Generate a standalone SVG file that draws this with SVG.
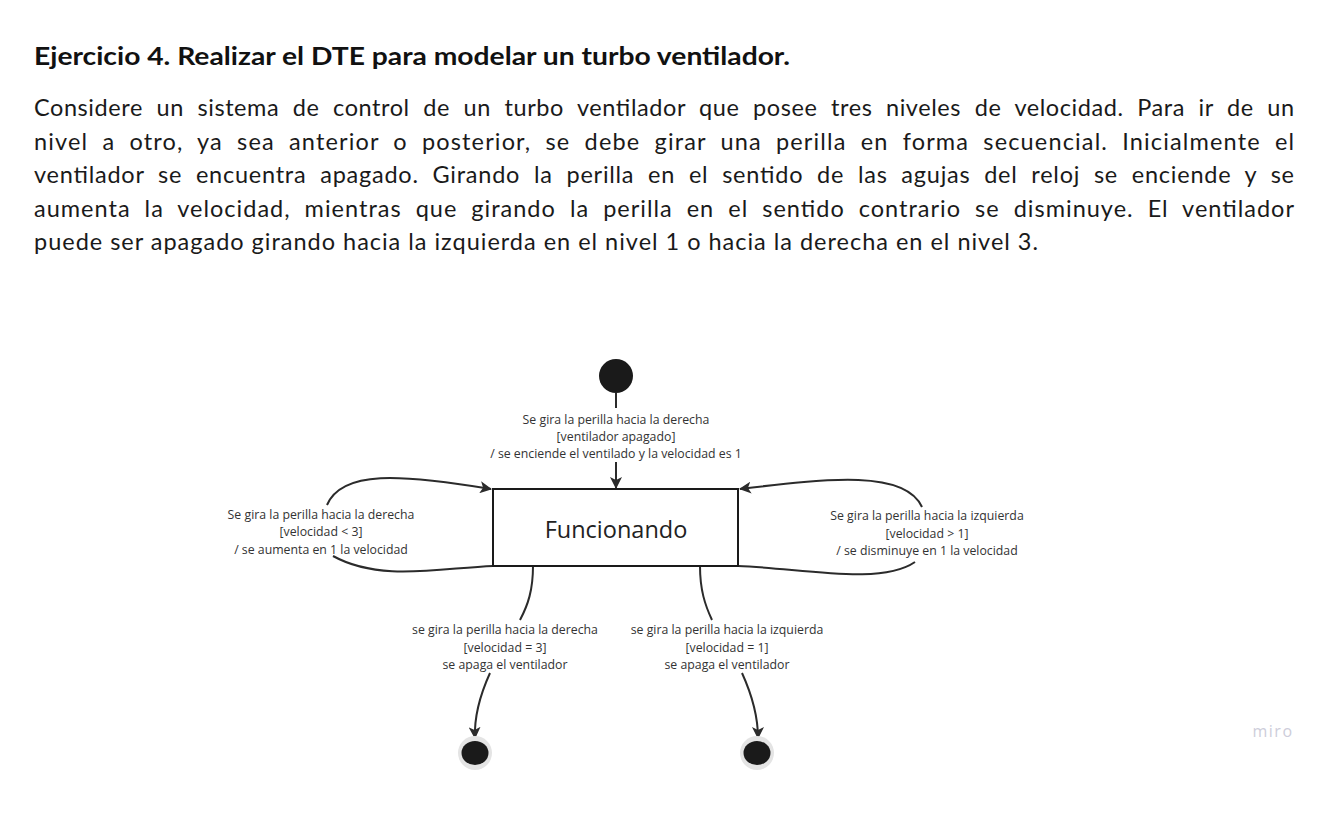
<svg xmlns="http://www.w3.org/2000/svg" width="1326" height="829" viewBox="0 0 1326 829">
<defs>
<style>
.title{font-family:Lato,"Liberation Sans",sans-serif;font-weight:bold;font-size:24.5px;fill:#111}
.para{font-family:Lato,"Liberation Sans",sans-serif;font-size:23.5px;fill:#1a1a1a;word-spacing:7px}
.lbl{font-family:"Open Sans","Liberation Sans",sans-serif;font-size:12.3px;fill:#333;text-anchor:middle}
.state{font-family:"Open Sans","Liberation Sans",sans-serif;font-size:23.5px;fill:#222;text-anchor:middle}
.edge{fill:none;stroke:#2b2b2b;stroke-width:2}
</style>
<marker id="arr" viewBox="0 0 12 12" refX="11" refY="6" markerWidth="12" markerHeight="12" markerUnits="userSpaceOnUse" orient="auto">
<path d="M0,0 L12,6 L0,12 L3,6 z" fill="#2b2b2b"/>
</marker>
</defs>
<rect width="1326" height="829" fill="#fff"/>
<g id="texto">
<text class="title" x="34" y="65" textLength="756" lengthAdjust="spacingAndGlyphs">Ejercicio 4. Realizar el DTE para modelar un turbo ventilador.</text>
<text class="para" x="34" y="116" textLength="1260" lengthAdjust="spacing">Considere un sistema de control de un turbo ventilador que posee tres niveles de velocidad. Para ir de un</text>
<text class="para" x="34" y="149.5" textLength="1260" lengthAdjust="spacing">nivel a otro, ya sea anterior o posterior, se debe girar una perilla en forma secuencial. Inicialmente el</text>
<text class="para" x="34" y="183" textLength="1260" lengthAdjust="spacing">ventilador se encuentra apagado. Girando la perilla en el sentido de las agujas del reloj se enciende y se</text>
<text class="para" x="34" y="216.5" textLength="1260" lengthAdjust="spacing">aumenta la velocidad, mientras que girando la perilla en el sentido contrario se disminuye. El ventilador</text>
<text class="para" x="34" y="250" style="word-spacing:0" textLength="1004" lengthAdjust="spacing">puede ser apagado girando hacia la izquierda en el nivel 1 o hacia la derecha en el nivel 3.</text>
</g>
<g id="connectors">
<path class="edge" d="M616,393 L616,408"/>
<path class="edge" d="M616,462 L616,488" marker-end="url(#arr)"/>
<path class="edge" d="M493,566 C440,568 380,582 333,556"/>
<path class="edge" d="M327,505 C342,470 400,474 491,489" marker-end="url(#arr)"/>
<path class="edge" d="M922,507 C905,470 830,478 740,489" marker-end="url(#arr)"/>
<path class="edge" d="M738,566 C800,568 880,586 915,562"/>
<path class="edge" d="M533,566 C533,590 528,605 520,620"/>
<path class="edge" d="M490,673 C480,695 474,715 475,738" marker-end="url(#arr)"/>
<path class="edge" d="M700,566 C700,590 705,605 712,620"/>
<path class="edge" d="M742,673 C752,695 758,715 758,738" marker-end="url(#arr)"/>
</g>
<g id="labels">
<text class="lbl" x="616" y="423.5">Se gira la perilla hacia la derecha</text>
<text class="lbl" x="616" y="440.5">[ventilador apagado]</text>
<text class="lbl" x="616" y="457.5">/ se enciende el ventilado y la velocidad es 1</text>
<text class="lbl" x="321" y="518.5">Se gira la perilla hacia la derecha</text>
<text class="lbl" x="321" y="535.5">[velocidad &lt; 3]</text>
<text class="lbl" x="321" y="553.5">/ se aumenta en 1 la velocidad</text>
<text class="lbl" x="927" y="519.5">Se gira la perilla hacia la izquierda</text>
<text class="lbl" x="927" y="537.5">[velocidad &gt; 1]</text>
<text class="lbl" x="927" y="554.5">/ se disminuye en 1 la velocidad</text>
<text class="lbl" x="505" y="633.5">se gira la perilla hacia la derecha</text>
<text class="lbl" x="505" y="651.5">[velocidad = 3]</text>
<text class="lbl" x="505" y="668.5">se apaga el ventilador</text>
<text class="lbl" x="727" y="633.5">se gira la perilla hacia la izquierda</text>
<text class="lbl" x="727" y="651.5">[velocidad = 1]</text>
<text class="lbl" x="727" y="668.5">se apaga el ventilador</text>
</g>
<g id="inicio">
<circle cx="616" cy="376" r="17" fill="#1a1a1a"/>
</g>
<g id="funcionando">
<rect x="493" y="489" width="245" height="77" fill="#fff" stroke="#1a1a1a" stroke-width="2"/>
<text class="state" x="616" y="537.5">Funcionando</text>
</g>
<g id="fin1">
<circle cx="475" cy="753" r="17" fill="#e4e4e4"/>
<ellipse cx="475" cy="753" rx="13.5" ry="12" fill="#1a1a1a"/>
</g>
<g id="fin2">
<circle cx="757" cy="753" r="17" fill="#e4e4e4"/>
<ellipse cx="757" cy="753" rx="13.5" ry="12" fill="#1a1a1a"/>
</g>
<text x="1273" y="737" font-family="'Open Sans','Liberation Sans',sans-serif" font-size="16" fill="#cdcdda" text-anchor="middle" letter-spacing="1.5">miro</text>
</svg>
